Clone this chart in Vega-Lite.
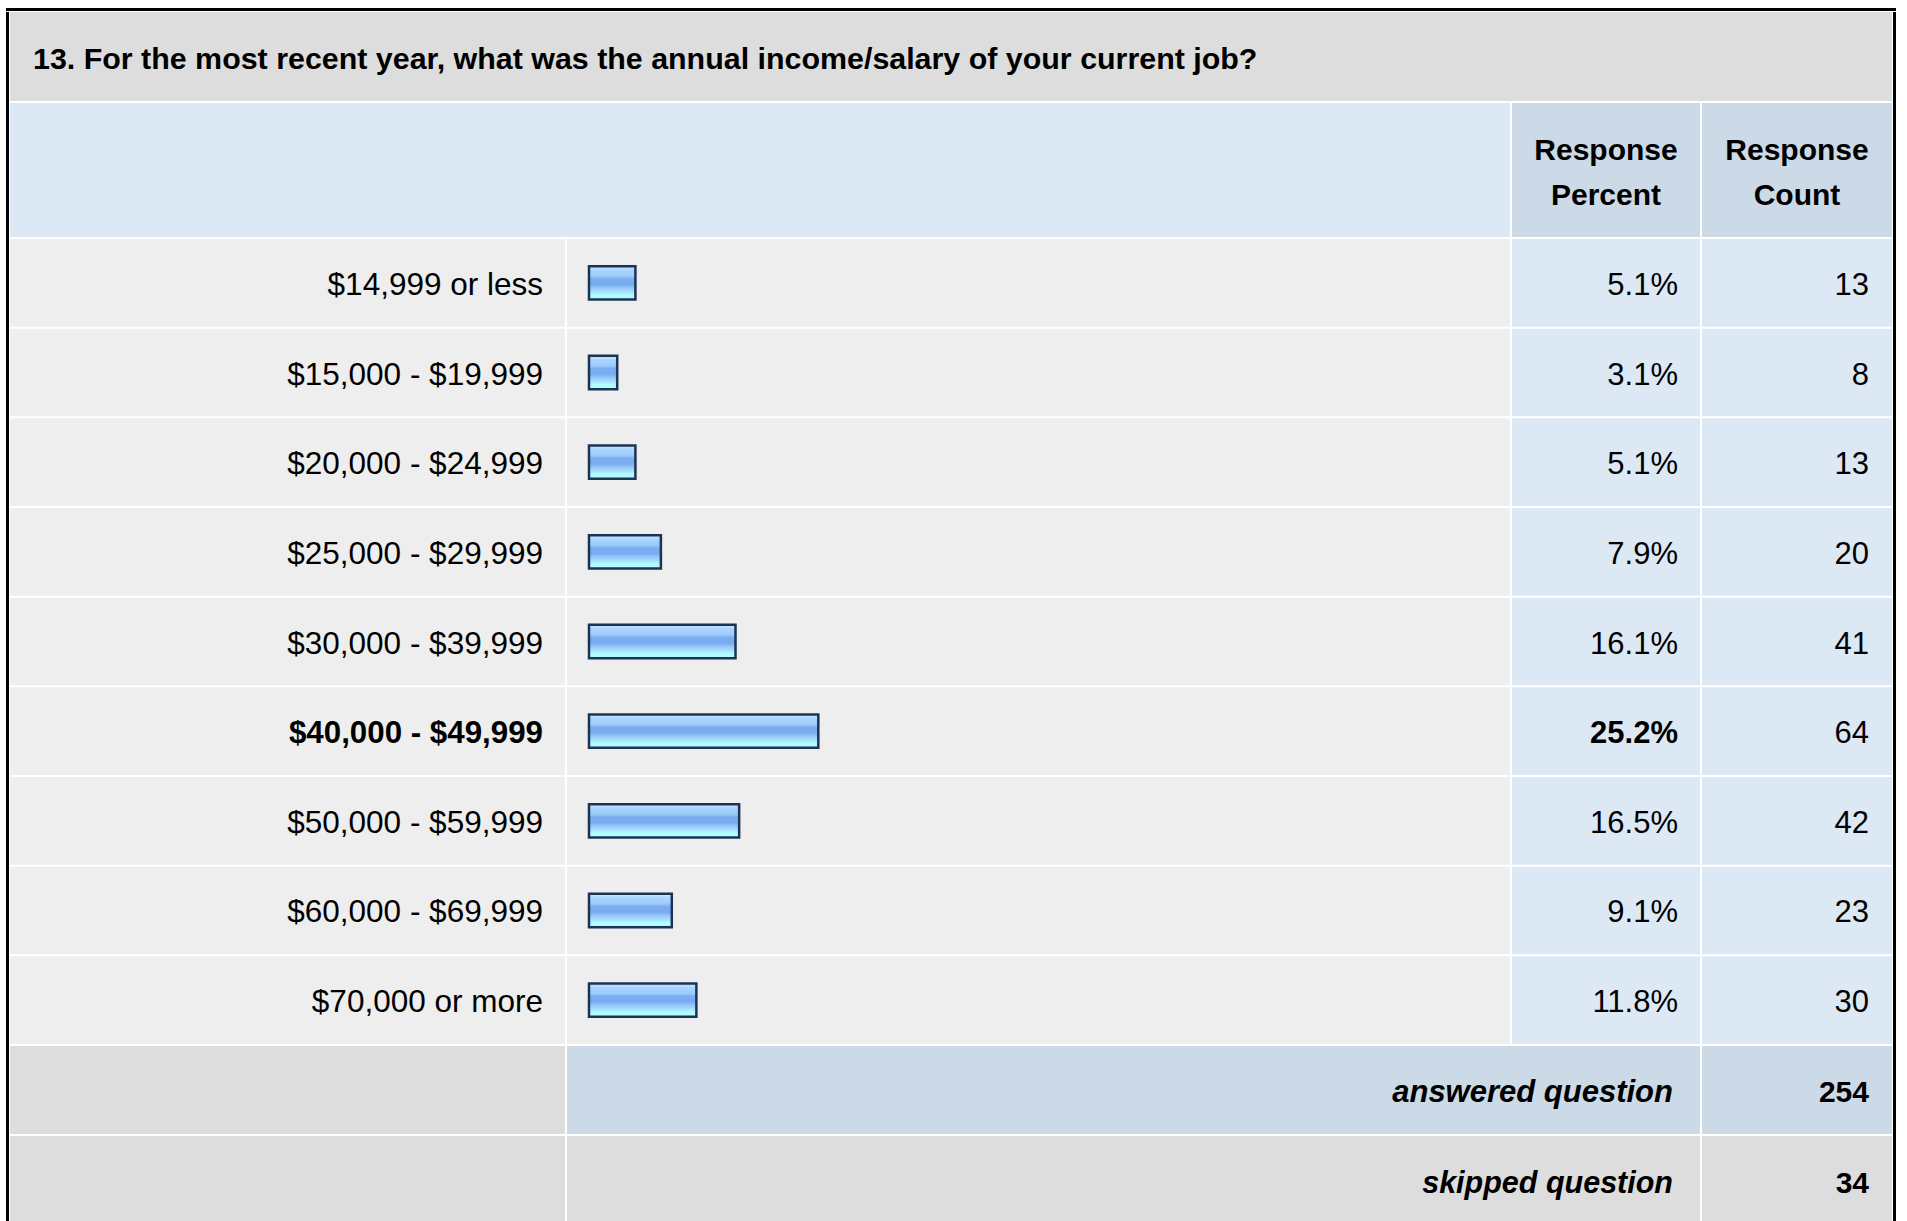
{
  "$schema": "https://vega.github.io/schema/vega-lite/v6.json",
  "background": "white",
  "padding": {"left": 6, "top": 8, "right": 0, "bottom": 0},
  "usermeta": {"embedOptions": {"actions": false}},
  "config": {
    "view": {"stroke": null},
    "font": "Liberation Sans",
    "text": {"font": "Liberation Sans", "color": "#000000"}
  },
  "datasets": {
    "rows": [
      {"range": "$14,999 or less", "share": 0.051, "count": 13},
      {"range": "$15,000 - $19,999", "share": 0.031, "count": 8},
      {"range": "$20,000 - $24,999", "share": 0.051, "count": 13},
      {"range": "$25,000 - $29,999", "share": 0.079, "count": 20},
      {"range": "$30,000 - $39,999", "share": 0.161, "count": 41},
      {"range": "$40,000 - $49,999", "share": 0.252, "count": 64},
      {"range": "$50,000 - $59,999", "share": 0.165, "count": 42},
      {"range": "$60,000 - $69,999", "share": 0.091, "count": 23},
      {"range": "$70,000 or more", "share": 0.118, "count": 30}
    ],
    "summary": [
      {"label": "answered question", "value": 254},
      {"label": "skipped question", "value": 34}
    ],
    "one": [{}]
  },
  "spacing": 1,
  "vconcat": [
    {
      "width": 1890, "height": 3,
      "data": {"name": "one"},
      "mark": {"type": "rect", "x": 0, "x2": "width", "y": 0, "y2": "height", "color": "#000000"}
    },
    {
      "spacing": 1,
      "hconcat": [
        {
          "width": 3, "height": 1209,
          "data": {"name": "one"},
          "mark": {"type": "rect", "x": 0, "x2": "width", "y": 0, "y2": "height", "color": "#000000"}
        },
        {
          "spacing": 2,
          "vconcat": [
            {
              "width": 1882, "height": 89,
              "data": {"name": "one"},
              "view": {"fill": "#dddddd", "stroke": null},
              "mark": {
                "type": "text",
                "text": "13. For the most recent year, what was the annual income/salary of your current job?",
                "align": "left", "baseline": "middle", "x": 0, "dx": 23, "dy": 3,
                "fontSize": 30.4, "fontWeight": "bold"
              }
            },
            {
              "spacing": 2,
              "hconcat": [
                {
                  "width": 1500, "height": 134,
                  "data": {"name": "one"},
                  "mark": {"type": "rect", "x": 0, "x2": "width", "y": 0, "y2": "height", "color": "#dde8f5"}
                },
                {
                  "width": 188, "height": 134,
                  "data": {"name": "one"},
                  "view": {"fill": "#ccd9e6", "stroke": null},
                  "mark": {
                    "type": "text", "text": "Response Percent", "lineBreak": " ", "lineHeight": 45,
                    "align": "center", "baseline": "middle", "dy": -19,
                    "fontSize": 30, "fontWeight": "bold"
                  }
                },
                {
                  "width": 190, "height": 134,
                  "data": {"name": "one"},
                  "view": {"fill": "#ccd9e6", "stroke": null},
                  "mark": {
                    "type": "text", "text": "Response Count", "lineBreak": " ", "lineHeight": 45,
                    "align": "center", "baseline": "middle", "dy": -19,
                    "fontSize": 30, "fontWeight": "bold"
                  }
                }
              ]
            },
            {
              "spacing": 2,
              "hconcat": [
                {
                  "width": 555, "height": 805,
                  "data": {"name": "rows"},
                  "transform": [{"joinaggregate": [{"op": "max", "field": "count", "as": "maxCount"}]}],
                  "encoding": {
                    "y": {"field": "range", "type": "nominal", "sort": null, "axis": null,
                          "scale": {"paddingInner": 0.0223, "paddingOuter": 0}}
                  },
                  "layer": [
                    {"mark": {"type": "rect", "x": 0, "x2": "width", "color": "#eeeeee"}},
                    {
                      "transform": [{"filter": "datum.count !== datum.maxCount"}],
                      "mark": {"type": "text", "align": "right", "baseline": "middle", "x": "width", "dx": -22, "dy": 3, "fontSize": 31.5},
                      "encoding": {"text": {"field": "range"}}
                    },
                    {
                      "transform": [{"filter": "datum.count === datum.maxCount"}],
                      "mark": {"type": "text", "align": "right", "baseline": "middle", "x": "width", "dx": -22, "dy": 3, "fontSize": 31.3, "fontWeight": "bold"},
                      "encoding": {"text": {"field": "range"}}
                    }
                  ]
                },
                {
                  "width": 943, "height": 805,
                  "data": {"name": "rows"},
                  "encoding": {
                    "y": {"field": "range", "type": "nominal", "sort": null, "axis": null,
                          "scale": {"paddingInner": 0.0223, "paddingOuter": 0}}
                  },
                  "layer": [
                    {"mark": {"type": "rect", "x": 0, "x2": "width", "color": "#eeeeee"}},
                    {
                      "mark": {
                        "type": "bar",
                        "height": {"band": 0.38},
                        "fill": {
                          "gradient": "linear", "x1": 0, "y1": 0, "x2": 0, "y2": 1,
                          "stops": [
                            {"offset": 0, "color": "#cfe8ff"},
                            {"offset": 0.12, "color": "#a9d5fe"},
                            {"offset": 0.3, "color": "#9dcbfa"},
                            {"offset": 0.38, "color": "#7aaef0"},
                            {"offset": 0.55, "color": "#78acef"},
                            {"offset": 0.65, "color": "#95c6f8"},
                            {"offset": 0.8, "color": "#a9e9fd"},
                            {"offset": 0.86, "color": "#b0fcff"},
                            {"offset": 1, "color": "#b0fcff"}
                          ]
                        },
                        "stroke": "#1b3355", "strokeWidth": 2.5
                      },
                      "encoding": {
                        "x": {"field": "share", "type": "quantitative", "axis": null,
                              "scale": {"domain": [0, 1], "range": [22, 932]}}
                      }
                    }
                  ]
                },
                {
                  "width": 188, "height": 805,
                  "data": {"name": "rows"},
                  "transform": [{"joinaggregate": [{"op": "max", "field": "count", "as": "maxCount"}]}],
                  "encoding": {
                    "y": {"field": "range", "type": "nominal", "sort": null, "axis": null,
                          "scale": {"paddingInner": 0.0223, "paddingOuter": 0}}
                  },
                  "layer": [
                    {"mark": {"type": "rect", "x": 0, "x2": "width", "color": "#dde8f5"}},
                    {
                      "transform": [{"filter": "datum.count !== datum.maxCount"}],
                      "mark": {"type": "text", "align": "right", "baseline": "middle", "x": "width", "dx": -22, "dy": 3, "fontSize": 31},
                      "encoding": {"text": {"field": "share", "format": ".1%"}}
                    },
                    {
                      "transform": [{"filter": "datum.count === datum.maxCount"}],
                      "mark": {"type": "text", "align": "right", "baseline": "middle", "x": "width", "dx": -22, "dy": 3, "fontSize": 31, "fontWeight": "bold"},
                      "encoding": {"text": {"field": "share", "format": ".1%"}}
                    }
                  ]
                },
                {
                  "width": 190, "height": 805,
                  "data": {"name": "rows"},
                  "encoding": {
                    "y": {"field": "range", "type": "nominal", "sort": null, "axis": null,
                          "scale": {"paddingInner": 0.0223, "paddingOuter": 0}}
                  },
                  "layer": [
                    {"mark": {"type": "rect", "x": 0, "x2": "width", "color": "#dde8f5"}},
                    {
                      "mark": {"type": "text", "align": "right", "baseline": "middle", "x": "width", "dx": -23, "dy": 3, "fontSize": 31},
                      "encoding": {"text": {"field": "count"}}
                    }
                  ]
                }
              ]
            },
            {
              "spacing": 2,
              "hconcat": [
                {
                  "width": 555, "height": 88,
                  "data": {"name": "one"},
                  "mark": {"type": "rect", "x": 0, "x2": "width", "y": 0, "y2": "height", "color": "#dddddd"}
                },
                {
                  "width": 1133, "height": 88,
                  "data": {"name": "summary"},
                  "transform": [{"filter": "datum.label === 'answered question'"}],
                  "view": {"fill": "#ccd9e6", "stroke": null},
                  "mark": {"type": "text", "align": "right", "baseline": "middle", "x": "width", "dx": -27, "dy": 3,
                           "fontSize": 31, "fontWeight": "bold", "fontStyle": "italic"},
                  "encoding": {"text": {"field": "label"}}
                },
                {
                  "width": 190, "height": 88,
                  "data": {"name": "summary"},
                  "transform": [{"filter": "datum.label === 'answered question'"}],
                  "view": {"fill": "#ccd9e6", "stroke": null},
                  "mark": {"type": "text", "align": "right", "baseline": "middle", "x": "width", "dx": -23, "dy": 3,
                           "fontSize": 30, "fontWeight": "bold"},
                  "encoding": {"text": {"field": "value"}}
                }
              ]
            },
            {
              "spacing": 2,
              "hconcat": [
                {
                  "width": 555, "height": 85,
                  "data": {"name": "one"},
                  "mark": {"type": "rect", "x": 0, "x2": "width", "y": 0, "y2": "height", "color": "#dddddd"}
                },
                {
                  "width": 1133, "height": 85,
                  "data": {"name": "summary"},
                  "transform": [{"filter": "datum.label === 'skipped question'"}],
                  "view": {"fill": "#dddddd", "stroke": null},
                  "mark": {"type": "text", "align": "right", "baseline": "middle", "x": "width", "dx": -27, "dy": 5,
                           "fontSize": 30.5, "fontWeight": "bold", "fontStyle": "italic"},
                  "encoding": {"text": {"field": "label"}}
                },
                {
                  "width": 190, "height": 85,
                  "data": {"name": "summary"},
                  "transform": [{"filter": "datum.label === 'skipped question'"}],
                  "view": {"fill": "#dddddd", "stroke": null},
                  "mark": {"type": "text", "align": "right", "baseline": "middle", "x": "width", "dx": -23, "dy": 5,
                           "fontSize": 30, "fontWeight": "bold"},
                  "encoding": {"text": {"field": "value"}}
                }
              ]
            }
          ]
        },
        {
          "width": 3, "height": 1209,
          "data": {"name": "one"},
          "mark": {"type": "rect", "x": 0, "x2": "width", "y": 0, "y2": "height", "color": "#000000"}
        }
      ]
    }
  ]
}
